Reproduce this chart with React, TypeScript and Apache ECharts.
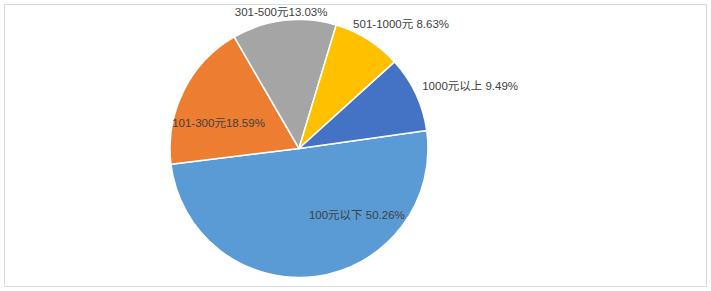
import React, { useEffect, useRef } from "react";
import * as echarts from "echarts";

const categories = ["100元以下", "101-300元", "301-500元", "501-1000元", "1000元以上"];
const percentValues = [50.26, 18.59, 13.03, 8.63, 9.49];
const labelSeparators = [" ", "", "", " ", " "];

const sliceColors = ["#5B9BD5", "#ED7D31", "#A5A5A5", "#FFC000", "#4472C4"];
const labelOffsets: [number, number][] = [
  [49, 0],
  [-20, 5],
  [-10, -69],
  [66, -67],
  [110, -34],
];

export default function App() {
  const ref = useRef<HTMLDivElement>(null);
  useEffect(() => {
    document.body.style.margin = "0";
    if (!ref.current) return;
    const chart = echarts.init(ref.current, undefined, { renderer: "svg" });
    chart.setOption({
      animation: false,
      backgroundColor: "#ffffff",
      graphic: [
        {
          type: "rect",
          shape: { x: 4.5, y: 4.5, width: 702, height: 282 },
          style: { fill: "none", stroke: "#d9d9d9", lineWidth: 1 },
          silent: true,
        },
      ],
      series: [
        {
          type: "pie",
          center: [299, 148.5],
          radius: [0, 129],
          startAngle: 8,
          clockwise: true,
          avoidLabelOverlap: false,
          itemStyle: { borderColor: "#ffffff", borderWidth: 1.5 },
          labelLine: { show: false },
          label: {
            show: true,
            position: "inside",
            color: "#404040",
            fontSize: 11.5,
            fontFamily: "'Liberation Sans', 'Noto Sans CJK SC', sans-serif",
          },
          data: categories.map((name, i) => ({
            name,
            value: percentValues[i],
            itemStyle: { color: sliceColors[i] },
            label: {
              offset: labelOffsets[i],
              formatter: () => name + labelSeparators[i] + percentValues[i].toFixed(2) + "%",
            },
          })),
        },
      ],
    });
    return () => chart.dispose();
  }, []);
  return <div ref={ref} style={{ width: 711, height: 291 }} />;
}
